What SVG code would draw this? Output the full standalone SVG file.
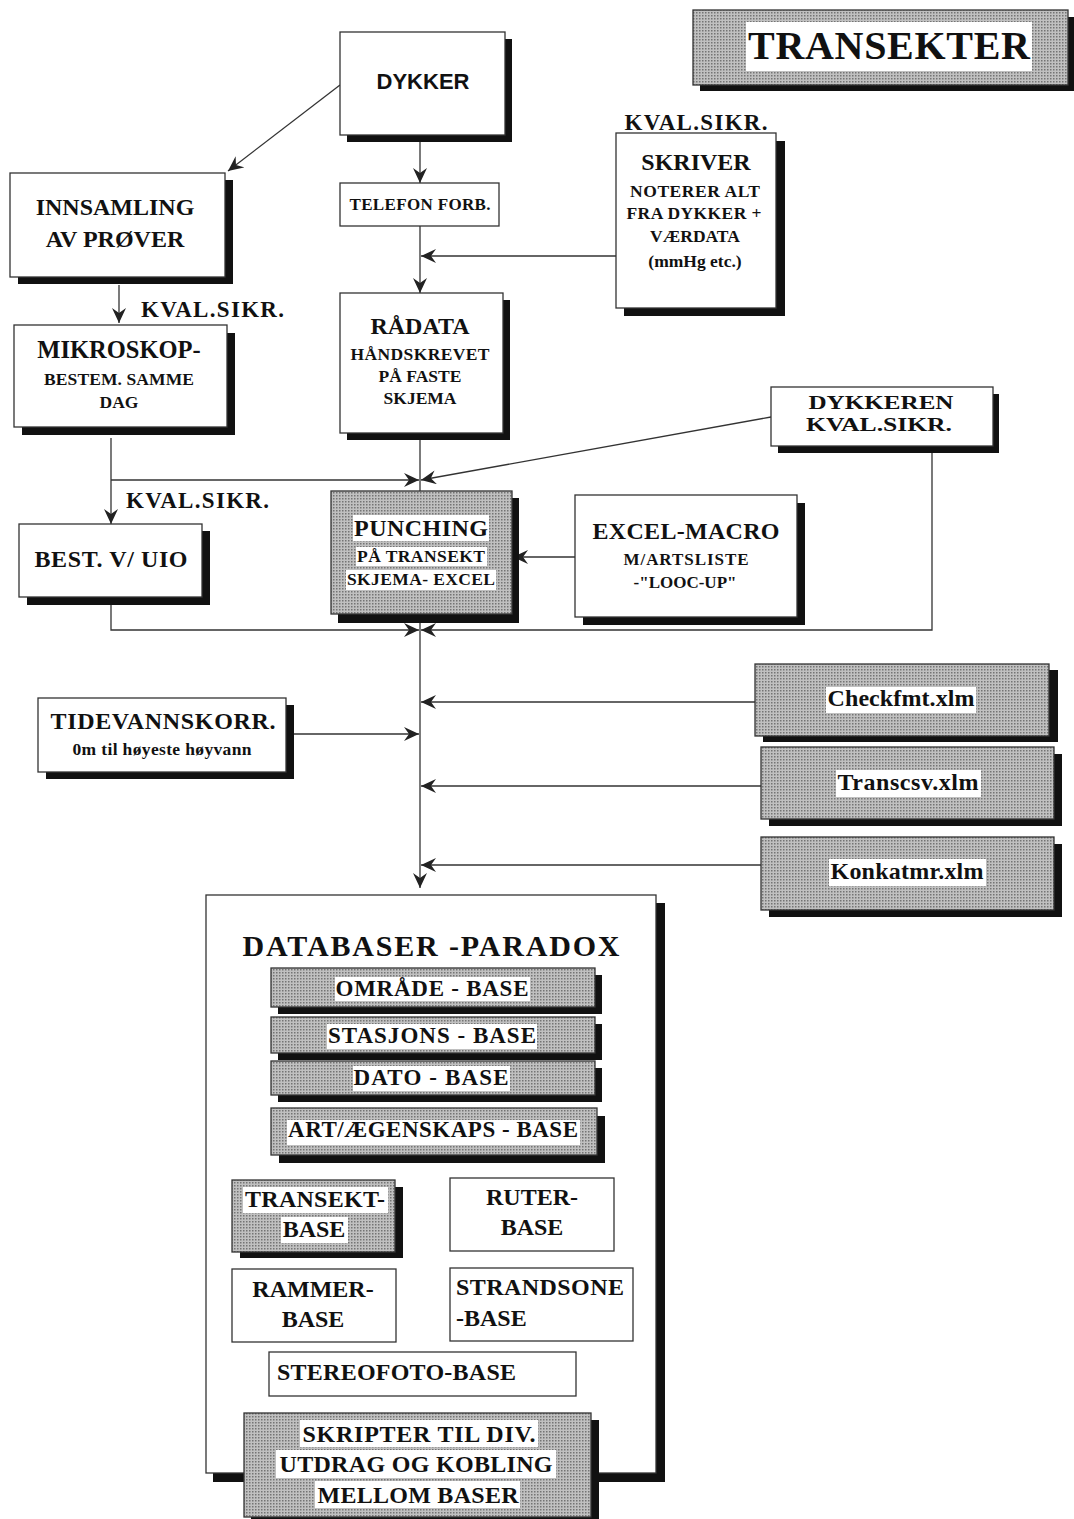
<svg xmlns="http://www.w3.org/2000/svg" width="1074" height="1519" viewBox="0 0 1074 1519">
<defs>
<pattern id="dots" width="3" height="3" patternUnits="userSpaceOnUse">
<rect width="3" height="3" fill="#c0c0c0"/>
<rect x="0" y="0" width="1.5" height="1.5" fill="#747474"/>
</pattern>
<marker id="ah" markerUnits="userSpaceOnUse" markerWidth="16" markerHeight="14" refX="15" refY="7" orient="auto">
<path d="M0,0 L15,7 L0,14 L5,7 Z" fill="#222"/>
</marker>
<style>
.box{fill:#fff;stroke:#333;stroke-width:1.3}
.gbox{fill:url(#dots);stroke:#333;stroke-width:1.3}
.sh{fill:#111}
.wb{fill:#fff}
.t{font-family:"Liberation Serif","Times New Roman",serif;font-weight:bold;fill:#111;text-anchor:middle}
.tl{font-family:"Liberation Serif","Times New Roman",serif;font-weight:bold;fill:#111}
.s{font-family:"Liberation Sans",Arial,sans-serif;font-weight:bold;fill:#111;text-anchor:middle}
.c{fill:none;stroke:#333;stroke-width:1.3}
</style>
</defs>
<rect width="1074" height="1519" fill="#fff"/>

<g id="connectors">
<line class="c" x1="340" y1="85" x2="228" y2="171" marker-end="url(#ah)"/>
<line class="c" x1="420" y1="142" x2="420" y2="183" marker-end="url(#ah)"/>
<line class="c" x1="420" y1="226" x2="420" y2="293" marker-end="url(#ah)"/>
<line class="c" x1="616" y1="256" x2="421" y2="256" marker-end="url(#ah)"/>
<line class="c" x1="119" y1="285" x2="119" y2="323" marker-end="url(#ah)"/>
<line class="c" x1="111" y1="438" x2="111" y2="524" marker-end="url(#ah)"/>
<line class="c" x1="111" y1="480" x2="419" y2="480" marker-end="url(#ah)"/>
<line class="c" x1="771" y1="417" x2="421" y2="480" marker-end="url(#ah)"/>
<line class="c" x1="420" y1="440" x2="420" y2="491"/>
<line class="c" x1="575" y1="557" x2="513" y2="557" marker-end="url(#ah)"/>
<polyline class="c" points="111,605 111,630 419,630" marker-end="url(#ah)"/>
<polyline class="c" points="932,453 932,630 421,630" marker-end="url(#ah)"/>
<line class="c" x1="420" y1="623" x2="420" y2="888" marker-end="url(#ah)"/>
<line class="c" x1="755" y1="702" x2="421" y2="702" marker-end="url(#ah)"/>
<line class="c" x1="294" y1="734" x2="419" y2="734" marker-end="url(#ah)"/>
<line class="c" x1="761" y1="786" x2="421" y2="786" marker-end="url(#ah)"/>
<line class="c" x1="761" y1="865" x2="421" y2="865" marker-end="url(#ah)"/>
</g>

<g id="title">
<rect class="sh" x="700" y="17" width="374" height="74"/>
<rect class="gbox" x="693" y="10" width="375" height="75"/>
<rect class="wb" x="746" y="22" width="286" height="49"/>
<text class="t" x="889" y="59" font-size="40" textLength="282">TRANSEKTER</text>
</g>

<g id="dykker">
<rect class="sh" x="347" y="39" width="165" height="103"/>
<rect class="box" x="340" y="32" width="165" height="103"/>
<text class="s" x="423" y="89" font-size="22">DYKKER</text>
</g>

<g id="innsamling">
<rect class="sh" x="18" y="180" width="215" height="104"/>
<rect class="box" x="10" y="173" width="215" height="104"/>
<text class="t" x="115" y="215" font-size="24">INNSAMLING</text>
<text class="t" x="115" y="247" font-size="24">AV PRØVER</text>
</g>

<g id="telefon">
<rect class="box" x="340" y="183" width="159" height="43"/>
<text class="t" x="420" y="210" font-size="17" textLength="141">TELEFON FORB.</text>
</g>

<g id="skriver">
<text class="t" x="696" y="130" font-size="23" textLength="143">KVAL.SIKR.</text>
<rect class="sh" x="624" y="141" width="161" height="175"/>
<rect class="box" x="616" y="133" width="160" height="175"/>
<text class="t" x="696" y="170" font-size="24">SKRIVER</text>
<text class="t" x="695" y="197" font-size="17.5" textLength="130">NOTERER ALT</text>
<text class="t" x="694" y="219" font-size="17.5" textLength="135">FRA DYKKER +</text>
<text class="t" x="695" y="242" font-size="17.5">VÆRDATA</text>
<text class="t" x="695" y="267" font-size="17.5">(mmHg etc.)</text>
</g>

<g id="radata">
<rect class="sh" x="347" y="300" width="163" height="140"/>
<rect class="box" x="340" y="293" width="163" height="140"/>
<text class="t" x="420" y="334" font-size="24">RÅDATA</text>
<text class="t" x="420" y="360" font-size="17.5" textLength="139">HÅNDSKREVET</text>
<text class="t" x="420" y="382" font-size="17.5">PÅ FASTE</text>
<text class="t" x="420" y="404" font-size="17.5">SKJEMA</text>
</g>

<g id="mikroskop">
<text class="tl" x="141" y="317" font-size="23" textLength="143">KVAL.SIKR.</text>
<rect class="sh" x="22" y="333" width="213" height="102"/>
<rect class="box" x="14" y="325" width="213" height="102"/>
<text class="t" x="119" y="358" font-size="24.5">MIKROSKOP-</text>
<text class="t" x="119" y="385" font-size="17.5" textLength="150">BESTEM. SAMME</text>
<text class="t" x="119" y="408" font-size="17.5">DAG</text>
</g>

<g id="dykkeren">
<rect class="sh" x="778" y="394" width="221" height="59"/>
<rect class="box" x="771" y="387" width="222" height="59"/>
<text class="t" x="881" y="409" font-size="19.5" textLength="145" lengthAdjust="spacingAndGlyphs">DYKKEREN</text>
<text class="t" x="879" y="431" font-size="19.5" textLength="146" lengthAdjust="spacingAndGlyphs">KVAL.SIKR.</text>
</g>

<g id="best">
<text class="tl" x="126" y="508" font-size="23" textLength="143">KVAL.SIKR.</text>
<rect class="sh" x="27" y="531" width="183" height="74"/>
<rect class="box" x="19" y="524" width="183" height="73"/>
<text class="t" x="111" y="567" font-size="24" textLength="153">BEST. V/ UIO</text>
</g>

<g id="punching">
<rect class="sh" x="338" y="498" width="181" height="125"/>
<rect class="gbox" x="331" y="491" width="181" height="123"/>
<rect class="wb" x="353" y="515" width="136" height="26"/>
<rect class="wb" x="356" y="547" width="131" height="19"/>
<rect class="wb" x="346" y="570" width="150" height="20"/>
<text class="t" x="421" y="536" font-size="24" textLength="134">PUNCHING</text>
<text class="t" x="421" y="562" font-size="17.5" textLength="128">PÅ TRANSEKT</text>
<text class="t" x="421" y="585" font-size="17.5" textLength="148">SKJEMA- EXCEL</text>
</g>

<g id="excel">
<rect class="sh" x="583" y="503" width="222" height="122"/>
<rect class="box" x="575" y="495" width="222" height="122"/>
<text class="t" x="686" y="539" font-size="24" textLength="187">EXCEL-MACRO</text>
<text class="t" x="686" y="565" font-size="17" textLength="125">M/ARTSLISTE</text>
<text class="t" x="685" y="588" font-size="17">-"LOOC-UP"</text>
</g>

<g id="tidevann">
<rect class="sh" x="46" y="705" width="248" height="74"/>
<rect class="box" x="38" y="698" width="248" height="74"/>
<text class="t" x="163" y="729" font-size="24" textLength="225">TIDEVANNSKORR.</text>
<text class="t" x="162" y="755" font-size="17.5" textLength="179">0m til høyeste høyvann</text>
</g>

<g id="checkfmt">
<rect class="sh" x="763" y="670" width="295" height="72"/>
<rect class="gbox" x="755" y="664" width="294" height="72"/>
<rect class="wb" x="826" y="687" width="150" height="26"/>
<text class="t" x="901" y="706" font-size="24" textLength="147">Checkfmt.xlm</text>
</g>

<g id="transcsv">
<rect class="sh" x="769" y="754" width="293" height="72"/>
<rect class="gbox" x="761" y="747" width="293" height="72"/>
<rect class="wb" x="836" y="770" width="145" height="27"/>
<text class="t" x="908" y="790" font-size="24" textLength="141">Transcsv.xlm</text>
</g>

<g id="konkatmr">
<rect class="sh" x="769" y="844" width="293" height="73"/>
<rect class="gbox" x="761" y="837" width="293" height="73"/>
<rect class="wb" x="829" y="859" width="157" height="27"/>
<text class="t" x="907" y="879" font-size="24" textLength="153">Konkatmr.xlm</text>
</g>

<g id="databaser">
<rect class="sh" x="213" y="903" width="452" height="579"/>
<rect class="box" x="206" y="895" width="450" height="578"/>
<text class="t" x="431" y="956" font-size="30" textLength="377">DATABASER  -PARADOX</text>
</g>

<g id="omrade">
<rect class="sh" x="278" y="975" width="324" height="39"/>
<rect class="gbox" x="271" y="968" width="324" height="39"/>
<rect class="wb" x="335" y="977" width="195" height="24"/>
<text class="t" x="432" y="996" font-size="23" textLength="193">OMRÅDE - BASE</text>
</g>

<g id="stasjons">
<rect class="sh" x="278" y="1024" width="324" height="36"/>
<rect class="gbox" x="271" y="1017" width="324" height="36"/>
<rect class="wb" x="327" y="1024" width="210" height="25"/>
<text class="t" x="432" y="1043" font-size="23" textLength="208">STASJONS - BASE</text>
</g>

<g id="dato">
<rect class="sh" x="278" y="1068" width="324" height="34"/>
<rect class="gbox" x="271" y="1061" width="324" height="34"/>
<rect class="wb" x="353" y="1066" width="157" height="25"/>
<text class="t" x="431" y="1085" font-size="23" textLength="155">DATO - BASE</text>
</g>

<g id="art">
<rect class="sh" x="279" y="1116" width="326" height="47"/>
<rect class="gbox" x="271" y="1108" width="326" height="47"/>
<rect class="wb" x="287" y="1120" width="293" height="25"/>
<text class="t" x="433" y="1137" font-size="23" textLength="290">ART/ÆGENSKAPS - BASE</text>
</g>

<g id="transekt">
<rect class="sh" x="240" y="1187" width="163" height="71"/>
<rect class="gbox" x="232" y="1180" width="163" height="72"/>
<rect class="wb" x="243" y="1187" width="145" height="26"/>
<rect class="wb" x="281" y="1217" width="67" height="26"/>
<text class="t" x="315" y="1207" font-size="24" textLength="140">TRANSEKT-</text>
<text class="t" x="314" y="1237" font-size="24">BASE</text>
</g>

<g id="ruter">
<rect class="box" x="450" y="1178" width="164" height="73"/>
<text class="t" x="532" y="1205" font-size="24">RUTER-</text>
<text class="t" x="532" y="1235" font-size="24">BASE</text>
</g>

<g id="rammer">
<rect class="box" x="232" y="1269" width="164" height="73"/>
<text class="t" x="313" y="1297" font-size="24">RAMMER-</text>
<text class="t" x="313" y="1327" font-size="24">BASE</text>
</g>

<g id="strandsone">
<rect class="box" x="450" y="1268" width="183" height="73"/>
<text class="tl" x="456" y="1295" font-size="24" textLength="168">STRANDSONE</text>
<text class="tl" x="456" y="1326" font-size="24">-BASE</text>
</g>

<g id="stereofoto">
<rect class="box" x="269" y="1352" width="307" height="44"/>
<text class="tl" x="277" y="1380" font-size="24" textLength="239">STEREOFOTO-BASE</text>
</g>

<g id="skripter">
<rect class="sh" x="251" y="1420" width="348" height="99"/>
<rect class="gbox" x="244" y="1413" width="347" height="104"/>
<rect class="wb" x="300" y="1420" width="238" height="27"/>
<rect class="wb" x="276" y="1450" width="280" height="28"/>
<rect class="wb" x="315" y="1481" width="205" height="27"/>
<text class="t" x="419" y="1442" font-size="24" textLength="233">SKRIPTER TIL DIV.</text>
<text class="t" x="416" y="1472" font-size="24" textLength="273">UTDRAG OG KOBLING</text>
<text class="t" x="418" y="1503" font-size="24" textLength="201">MELLOM BASER</text>
</g>
</svg>
